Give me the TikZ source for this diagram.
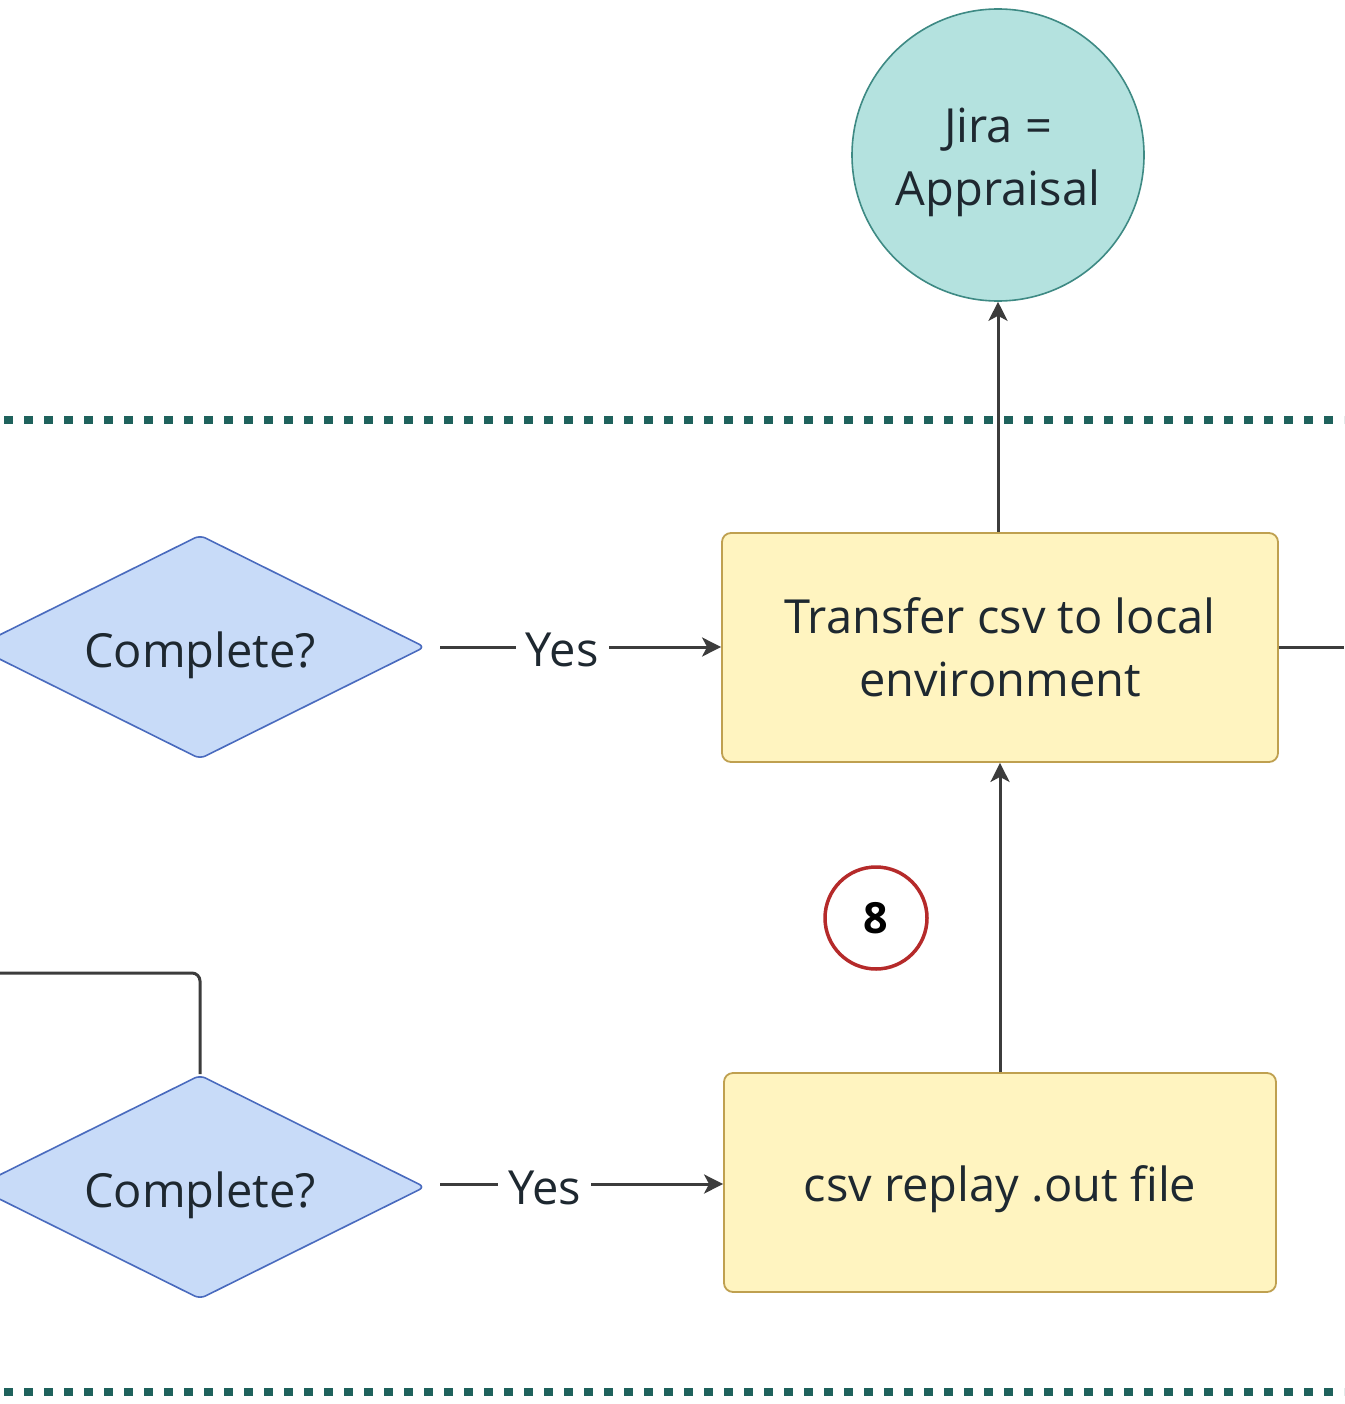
\documentclass[tikz,border=0pt]{standalone}
\usepackage{fontspec}
\setmainfont{Open Sans}
\usetikzlibrary{shapes.geometric,arrows.meta}
\definecolor{txt}{HTML}{1E2830}
\definecolor{lnc}{HTML}{3C3C3C}
\definecolor{tealfill}{HTML}{B4E2DF}
\definecolor{tealdraw}{HTML}{3E8A84}
\definecolor{dotc}{HTML}{1F625C}
\definecolor{boxfill}{HTML}{FFF4C0}
\definecolor{boxdraw}{HTML}{BFA050}
\definecolor{diafill}{HTML}{C8DBF8}
\definecolor{diadraw}{HTML}{4A6BBE}
\definecolor{redc}{HTML}{B52A2A}
\newcommand{\dn}[2]{\raisebox{-#1pt}[\height][\depth]{#2}}
\tikzset{
  bigtext/.style={font=\fontsize{47}{63}\selectfont, text=txt, align=center},
  procbox/.style={bigtext, draw=boxdraw, fill=boxfill, line width=1.8pt, rounded corners=9pt},
  decision/.style={bigtext, diamond, aspect=2, inner sep=0pt, draw=diadraw, fill=diafill, line width=1.6pt, rounded corners=6pt, minimum width=450pt, minimum height=224pt},
  terminal/.style={circle, draw=tealdraw, fill=tealfill, line width=1.6pt, minimum size=292pt, inner sep=0pt},
  stepnum/.style={circle, draw=redc, line width=3.5pt, minimum size=102pt, inner sep=0pt, font=\fontsize{43}{50}\selectfont\bfseries, text=black},
  conn/.style={draw=lnc, line width=3pt},
  arr/.style={conn, -{Stealth[length=19pt,width=19pt,inset=5pt]}},
  lbl/.style={bigtext, fill=white, inner sep=10pt},
  sep/.style={draw=dotc, line width=8.5pt, dash pattern=on 8.5pt off 11.5pt}
}
\begin{document}
\begin{tikzpicture}[x=1pt,y=-1pt]
\clip (0,0) rectangle (1344,1404);
\fill[white] (0,0) rectangle (1344,1404);
% separators
\draw[sep] (4,420) -- (1344,420);
\draw[sep] (4,1392) -- (1344,1392);
% nodes
\node[terminal] (jira) at (998,155) {};
\node[bigtext] (jiratext) at (998,162) {Jira =\\Appraisal};
\node[procbox, minimum width=556pt, minimum height=229pt] (transfer) at (1000,647.5) {Transfer csv to local\\environment};
\node[procbox, minimum width=552pt, minimum height=219pt] (replay) at (1000,1182.5) {\dn{7}{csv replay .out file}};
\node[decision] (d1) at (200,647) {\dn{8}{Complete?}};
\node[decision] (d2) at (200,1187) {\dn{8}{Complete?}};
\node[stepnum] (eight) at (876,918) {8};
\coordinate (rightout) at (1344,647);
\coordinate (leftout) at (0,973);
\coordinate (d1out) at (440,647);
\coordinate (d2out) at (440,1184);
% connectors
\draw[arr] (transfer.north -| jira.south) -- (jira.south);
\draw[arr] (replay.north) -- (transfer.south);
\draw[conn] (transfer.east |- rightout) -- (rightout);
\draw[arr] (d1out) -- (transfer.west |- d1out) node[lbl, pos=0.435] {\dn{3}{Yes}};
\draw[arr] (d2out) -- (replay.west |- d2out) node[lbl, pos=0.37] {\dn{4}{Yes}};
\draw[conn, rounded corners=8pt] (d2.north) -- (d2.north |- leftout) -- (leftout);
\end{tikzpicture}
\end{document}
